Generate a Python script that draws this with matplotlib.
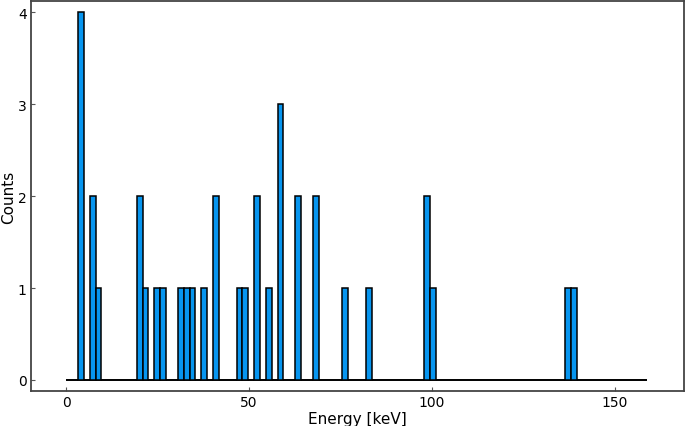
import numpy as np
import matplotlib
matplotlib.use("Agg")
import matplotlib.pyplot as plt

# histogram: 99 bins over 0-159 keV, only the filled bins listed
BIN_EDGES_KEV = (0, 159)
N_BINS = 99
FILLED_BINS = [2, 4, 5, 12, 13, 15, 16, 19, 20, 21, 23, 25, 29, 30,
               32, 34, 36, 39, 42, 47, 51, 61, 62, 85, 86]
COUNTS = [4, 2, 1, 2, 1, 1, 1, 1, 1, 1, 1, 2, 1, 1,
          2, 1, 3, 2, 2, 1, 1, 2, 1, 1, 1]
X_TICKS = [0, 50, 100, 150]
Y_TICKS = [0, 1, 2, 3, 4]

edges = np.linspace(BIN_EDGES_KEV[0], BIN_EDGES_KEV[1], N_BINS + 1)
centers = 0.5 * (edges[:-1] + edges[1:])
weights = np.zeros(N_BINS)
weights[FILLED_BINS] = COUNTS

fig = plt.figure(figsize=(6.85, 4.27), dpi=100)
ax = fig.add_axes([0.045, 0.082, 0.9535, 0.913])
ax.hist(centers, bins=edges, weights=weights, color="#0795ef",
        edgecolor="black", linewidth=1.1, zorder=2)
# empty bins show up as a flat outline along zero
ax.hlines(0, edges[0], edges[-1], color="black", lw=1.3, zorder=1)

ax.set_xlim(-9.7, 169)
ax.set_ylim(-0.12, 4.12)
ax.set_xticks(X_TICKS)
ax.set_yticks(Y_TICKS)
ax.tick_params(direction="in", length=3, width=0.8, color="#555555",
               labelsize=10, pad=3)
for s in ax.spines.values():
    s.set_color("#444444")
    s.set_linewidth(1.3)
ax.set_xlabel("Energy [keV]", fontsize=11, labelpad=1)
ax.set_ylabel("Counts", fontsize=11, labelpad=1)

fig.savefig("out.png", dpi=100)
